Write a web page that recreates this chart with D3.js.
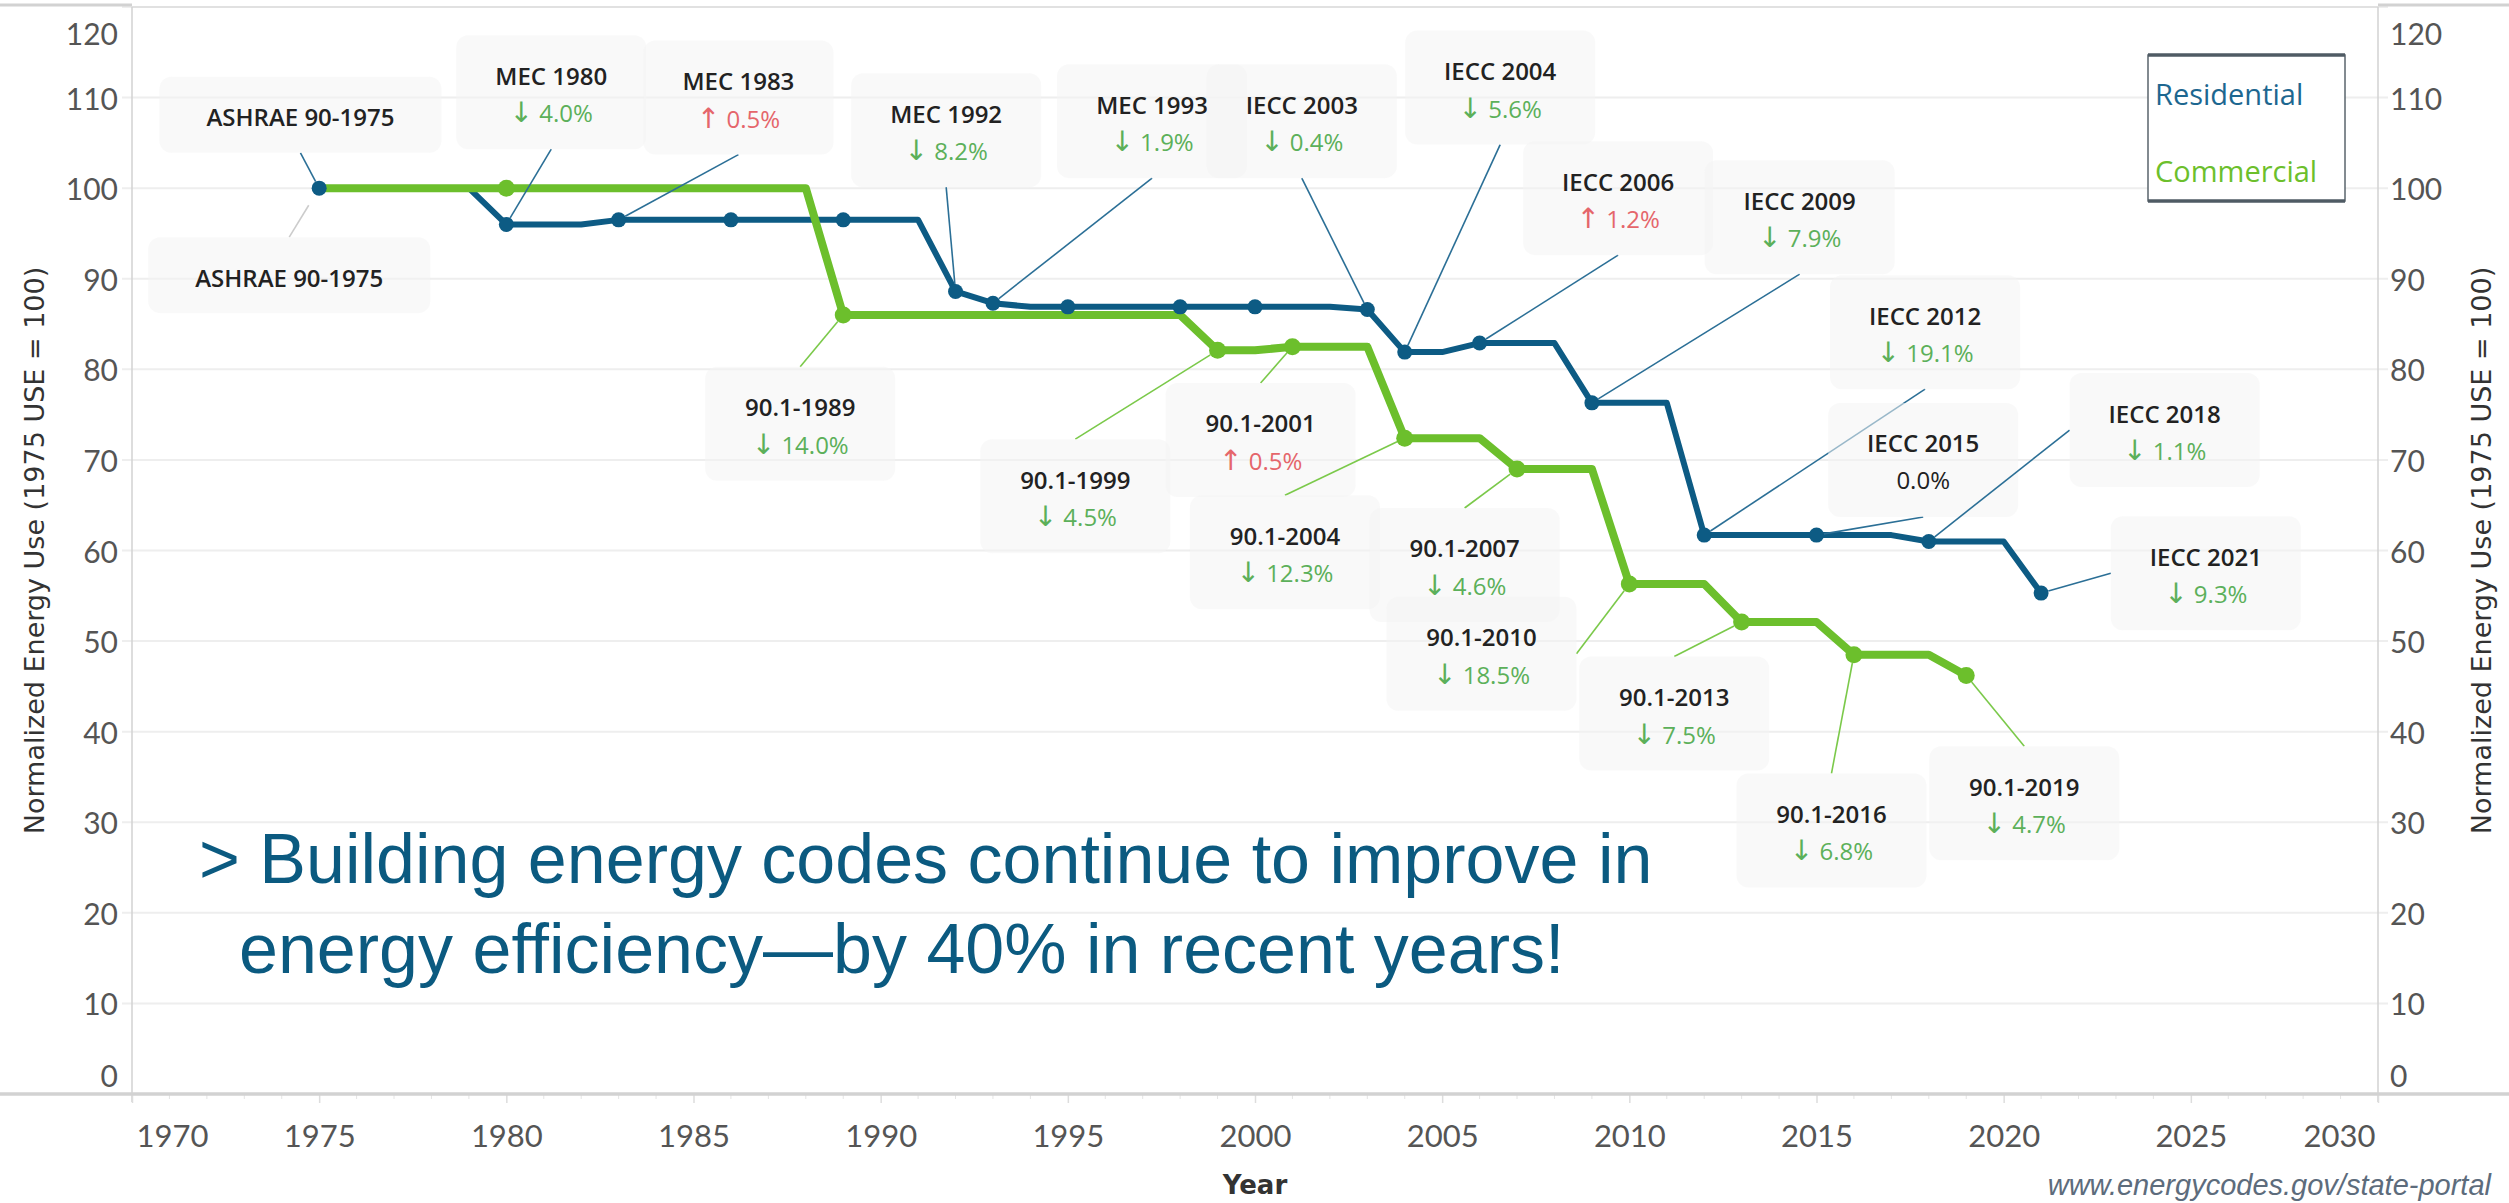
<!DOCTYPE html>
<html>
<head>
<meta charset="utf-8">
<script src="https://cdn.jsdelivr.net/npm/d3@7/dist/d3.min.js"></script>
<style>
  body { margin: 0; background: #fff; }
  svg { display: block; }
</style>
</head>
<body>
<svg id="chart" width="2509" height="1203"></svg>
<script>
// ---- data: normalized energy use (1975 = 100), annual values ----
const resYears = d3.range(1975, 2022);
const resValues = [
  100, 100, 100, 100, 100,
  96.0, 96.0, 96.0,
  96.5, 96.5, 96.5, 96.5, 96.5, 96.5, 96.5, 96.5, 96.5,
  88.6, 87.3,
  86.9, 86.9, 86.9, 86.9, 86.9, 86.9, 86.9, 86.9, 86.9,
  86.6, 81.9, 81.9, 82.9, 82.9, 82.9,
  76.3, 76.3, 76.3,
  61.7, 61.7, 61.7, 61.7, 61.7, 61.7,
  61.0, 61.0, 61.0, 55.3
];
const comYears = d3.range(1975, 2020);
const comValues = [
  100, 100, 100, 100, 100, 100, 100, 100, 100, 100, 100, 100, 100, 100,
  86.0, 86.0, 86.0, 86.0, 86.0, 86.0, 86.0, 86.0, 86.0, 86.0,
  82.1, 82.1, 82.5, 82.5, 82.5,
  72.4, 72.4, 72.4, 69.0, 69.0, 69.0,
  56.3, 56.3, 56.3, 52.1, 52.1, 52.1,
  48.5, 48.5, 48.5, 46.2
];

// code editions that get a marker
const resDotYears = [1975, 1980, 1983, 1986, 1989, 1992, 1993, 1995, 1998, 2000, 2003, 2004, 2006, 2009, 2012, 2015, 2018, 2021];
const comDotYears = [1980, 1989, 1999, 2001, 2004, 2007, 2010, 2013, 2016, 2019];

// annotations
const annoCodes = ['ASHRAE 90-1975', 'MEC 1980', 'MEC 1983', 'MEC 1992', 'MEC 1993', 'IECC 2003', 'IECC 2004',
  'IECC 2006', 'IECC 2009', 'IECC 2012', 'IECC 2015', 'IECC 2018', 'IECC 2021',
  'ASHRAE 90-1975', '90.1-1989', '90.1-1999', '90.1-2001', '90.1-2004', '90.1-2007', '90.1-2010',
  '90.1-2013', '90.1-2016', '90.1-2019'];
const annoChanges = ['', '4.0%', '0.5%', '8.2%', '1.9%', '0.4%', '5.6%', '1.2%', '7.9%', '19.1%', '0.0%', '1.1%', '9.3%',
  '', '14.0%', '4.5%', '0.5%', '12.3%', '4.6%', '18.5%', '7.5%', '6.8%', '4.7%'];
const annoDir = ['', 'down', 'up', 'down', 'down', 'down', 'down', 'up', 'down', 'down', 'flat', 'down', 'down',
  '', 'down', 'down', 'up', 'down', 'down', 'down', 'down', 'down', 'down'];
const annoSeries = ['res', 'res', 'res', 'res', 'res', 'res', 'res', 'res', 'res', 'res', 'res', 'res', 'res',
  'com', 'com', 'com', 'com', 'com', 'com', 'com', 'com', 'com', 'com'];
const annoYears = [1975, 1980, 1983, 1992, 1993, 2003, 2004, 2006, 2009, 2012, 2015, 2018, 2021,
  1975, 1989, 1999, 2001, 2004, 2007, 2010, 2013, 2016, 2019];

const yTicks = d3.range(0, 121, 10);
const xTicks = d3.range(1970, 2031, 5);

// ---- layout (box centres in chart units) ----
const annoBoxYear = [1974.5, 1981.2, 1986.2, 1991.75, 1997.25, 2001.25, 2006.55, 2009.7, 2014.55, 2017.9, 2017.85, 2024.3, 2025.4,
  1974.2, 1987.85, 1995.2, 2000.15, 2000.8, 2005.6, 2006.05, 2011.2, 2015.4, 2020.55];
const annoBoxValue = [108.1, 110.6, 110.0, 106.4, 107.4, 107.4, 111.1, 98.9, 96.8, 84.1, 70.0, 73.3, 57.5,
  90.4, 74.0, 66.0, 72.2, 59.8, 58.4, 48.6, 42.0, 29.1, 32.1];
const annoSide = ['bottom', 'bottom', 'bottom', 'bottom', 'bottom', 'bottom', 'bottom', 'bottom', 'bottom', 'bottom', 'bottom', 'left', 'left',
  'top', 'top', 'top', 'top', 'top', 'top', 'right', 'top', 'top', 'top'];

const colors = {
  res: '#0d5b84',
  com: '#6cbf2c',
  resLink: '#2b6f96',
  comLink: '#7bc94a',
  down: '#5cb05a',
  up: '#e5666b',
  grid: '#eeeeee',
  axis: '#d2d2d2',
  tick: '#555555'
};

const svg = d3.select('#chart');
const W = 2509, H = 1203;
const x = d3.scaleLinear().domain([1970, 2030]).range([132, 2378]);
const y = d3.scaleLinear().domain([0, 120]).range([1094, 7]);
const [x0, x1] = x.range();
const [yb, yt] = y.range();

svg.append('rect').attr('width', W).attr('height', H).attr('fill', '#fff');

// gridlines
svg.append('g')
  .selectAll('line')
  .data(yTicks.filter(d => d > 0))
  .join('line')
  .attr('x1', x0 - 10).attr('x2', x1 + 10)
  .attr('y1', d => y(d)).attr('y2', d => y(d))
  .attr('stroke', colors.grid).attr('stroke-width', 2);

// frame
svg.append('line').attr('x1', 0).attr('x2', x0).attr('y1', yt - 2).attr('y2', yt - 2)
  .attr('stroke', colors.axis).attr('stroke-width', 3);
svg.append('line').attr('x1', x1).attr('x2', W).attr('y1', yt - 2).attr('y2', yt - 2)
  .attr('stroke', colors.axis).attr('stroke-width', 3);
svg.append('line').attr('x1', x0).attr('x2', x1).attr('y1', yt).attr('y2', yt)
  .attr('stroke', '#dddddd').attr('stroke-width', 1.5);
svg.append('line').attr('x1', x0).attr('x2', x0).attr('y1', yt).attr('y2', yb + 8)
  .attr('stroke', colors.axis).attr('stroke-width', 1.5);
svg.append('line').attr('x1', x1).attr('x2', x1).attr('y1', yt).attr('y2', yb + 8)
  .attr('stroke', colors.axis).attr('stroke-width', 1.5);

// y tick labels (left and right)
const yLabelY = d => Math.min(Math.max(y(d), 33), 1075);
svg.append('g')
  .selectAll('text')
  .data(yTicks)
  .join('text')
  .attr('x', 118).attr('y', yLabelY)
  .attr('text-anchor', 'end').attr('dominant-baseline', 'central')
  .attr('font-family', 'Lato, sans-serif').attr('font-size', 30)
  .attr('fill', colors.tick)
  .text(d => d);
svg.append('g')
  .selectAll('text')
  .data(yTicks)
  .join('text')
  .attr('x', 2390).attr('y', yLabelY)
  .attr('text-anchor', 'start').attr('dominant-baseline', 'central')
  .attr('font-family', 'Lato, sans-serif').attr('font-size', 30)
  .attr('fill', colors.tick)
  .text(d => d);

// x axis
const xAxis = d3.axisBottom(x)
  .tickValues(xTicks)
  .tickSize(9)
  .tickPadding(22)
  .tickFormat(d3.format('d'));
const gx = svg.append('g').attr('transform', `translate(0,${yb})`).call(xAxis);
gx.select('.domain').remove();
gx.selectAll('.tick line').attr('stroke', '#dddddd').attr('stroke-width', 1.5);
gx.selectAll('.tick text')
  .attr('font-family', 'Lato, sans-serif').attr('font-size', 31)
  .attr('fill', colors.tick)
  .attr('text-anchor', (d, i) => i === 0 ? 'start' : (i === xTicks.length - 1 ? 'end' : 'middle'))
  .attr('x', (d, i) => i === 0 ? 4 : (i === xTicks.length - 1 ? -3 : 0));
// minor yearly ticks
svg.append('g')
  .selectAll('line')
  .data(d3.range(1971, 2030).filter(d => d % 5 !== 0))
  .join('line')
  .attr('x1', d => x(d)).attr('x2', d => x(d))
  .attr('y1', yb).attr('y2', yb + 5)
  .attr('stroke', '#e4e4e4').attr('stroke-width', 1);
svg.append('line').attr('x1', 0).attr('x2', W).attr('y1', yb).attr('y2', yb)
  .attr('stroke', colors.axis).attr('stroke-width', 3.5);

// axis titles (both read bottom to top)
[34, 2481].forEach(tx => {
  svg.append('text')
    .attr('transform', `translate(${tx},${(yt + yb) / 2}) rotate(-90)`)
    .attr('text-anchor', 'middle').attr('dominant-baseline', 'central')
    .attr('font-family', 'DejaVu Sans, sans-serif').attr('font-size', 27).attr('fill', '#333')
    .text('Normalized Energy Use (1975 USE = 100)');
});
svg.append('text')
  .attr('x', (x0 + x1) / 2).attr('y', 1194)
  .attr('text-anchor', 'middle')
  .attr('font-family', 'DejaVu Sans, sans-serif').attr('font-weight', 'bold')
  .attr('font-size', 26).attr('fill', '#333')
  .text('Year');
svg.append('text')
  .attr('x', 2491).attr('y', 1195)
  .attr('text-anchor', 'end')
  .attr('font-family', 'Liberation Sans, Arial, sans-serif').attr('font-style', 'italic')
  .attr('font-size', 29).attr('fill', '#5d6c7c')
  .text('www.energycodes.gov/state-portal');

// headline
const headline = svg.append('text')
  .attr('font-family', 'Liberation Sans, Arial, sans-serif').attr('font-size', 70)
  .attr('fill', '#0b5a80');
headline.append('tspan').attr('x', 199).attr('y', 883)
  .text('> Building energy codes continue to improve in');
headline.append('tspan').attr('x', 239).attr('y', 973)
  .text('energy efficiency\u2014by 40% in recent years!');

// series lines
const series = {
  res: resYears.map((yr, i) => ({ year: yr, value: resValues[i] })),
  com: comYears.map((yr, i) => ({ year: yr, value: comValues[i] }))
};
const valueAt = (key, yr) => series[key].find(d => d.year === yr).value;

const line = d3.line().x(d => x(d.year)).y(d => y(d.value));
svg.append('path').datum(series.res)
  .attr('d', line).attr('fill', 'none')
  .attr('stroke', colors.res).attr('stroke-width', 6).attr('stroke-linejoin', 'round');
svg.append('path').datum(series.com)
  .attr('d', line).attr('fill', 'none')
  .attr('stroke', colors.com).attr('stroke-width', 8).attr('stroke-linejoin', 'round');

const dotR = { res: 7.5, com: 8.5 };
svg.append('g')
  .selectAll('circle')
  .data(comDotYears)
  .join('circle')
  .attr('cx', d => x(d)).attr('cy', d => y(valueAt('com', d)))
  .attr('r', dotR.com).attr('fill', colors.com);
svg.append('g')
  .selectAll('circle')
  .data(resDotYears)
  .join('circle')
  .attr('cx', d => x(d)).attr('cy', d => y(valueAt('res', d)))
  .attr('r', dotR.res).attr('fill', colors.res);

// annotations: connector, box, text
const annoLayer = svg.append('g');
annoCodes.forEach((code, i) => {
  const key = annoSeries[i];
  const single = annoChanges[i] === '';
  const bw = single ? 282 : 190;
  const bh = single ? 76 : 114;
  const cx = x(annoBoxYear[i]);
  const cy = y(annoBoxValue[i]);
  const px = x(annoYears[i]);
  const py = y(valueAt(key, annoYears[i]));

  let sx = cx, sy = cy;
  if (annoSide[i] === 'bottom') sy = cy + bh / 2;
  if (annoSide[i] === 'top') sy = cy - bh / 2;
  if (annoSide[i] === 'left') sx = cx - bw / 2;
  if (annoSide[i] === 'right') sx = cx + bw / 2;

  // stop the connector at the marker edge (gray ASHRAE one stops short)
  const gap = (key === 'com' && single) ? 20 : dotR[key];
  const len = Math.hypot(px - sx, py - sy);
  const ex = px - (px - sx) / len * gap;
  const ey = py - (py - sy) / len * gap;
  const linkColor = (key === 'com' && single) ? '#cccccc' : (key === 'res' ? colors.resLink : colors.comLink);

  annoLayer.append('line')
    .attr('x1', sx).attr('y1', sy).attr('x2', ex).attr('y2', ey)
    .attr('stroke', linkColor).attr('stroke-width', 1.6);

  annoLayer.append('rect')
    .attr('x', cx - bw / 2).attr('y', cy - bh / 2)
    .attr('width', bw).attr('height', bh)
    .attr('rx', 12)
    .attr('fill', '#f4f4f4').attr('fill-opacity', 0.55);

  annoLayer.append('text')
    .attr('x', cx).attr('y', single ? cy + 2 : cy - 17)
    .attr('text-anchor', 'middle').attr('dominant-baseline', 'central')
    .attr('font-family', 'Open Sans, sans-serif').attr('font-weight', 600)
    .attr('font-size', 24).attr('fill', '#222')
    .text(code);

  if (!single) {
    const dir = annoDir[i];
    const t = annoLayer.append('text')
      .attr('x', cx).attr('y', cy + 20)
      .attr('text-anchor', 'middle').attr('dominant-baseline', 'central')
      .attr('font-family', 'Open Sans, sans-serif')
      .attr('font-size', 24)
      .attr('fill', dir === 'down' ? colors.down : (dir === 'up' ? colors.up : '#222'));
    if (dir !== 'flat') {
      t.append('tspan')
        .attr('font-family', 'DejaVu Sans, sans-serif').attr('font-size', 28)
        .text(dir === 'down' ? '\u2193' : '\u2191');
      t.append('tspan').text('\u00a0' + annoChanges[i]);
    } else {
      t.text(annoChanges[i]);
    }
  }
});

// legend
const legend = svg.append('g');
legend.append('rect')
  .attr('x', 2148).attr('y', 55).attr('width', 197).attr('height', 146)
  .attr('fill', '#fff').attr('stroke', '#5a646c').attr('stroke-width', 1.5);
legend.append('line').attr('x1', 2148).attr('x2', 2345).attr('y1', 55).attr('y2', 55)
  .attr('stroke', '#4f5b64').attr('stroke-width', 3.5);
legend.append('line').attr('x1', 2148).attr('x2', 2345).attr('y1', 201).attr('y2', 201)
  .attr('stroke', '#4f5b64').attr('stroke-width', 3.5);
legend.append('text')
  .attr('x', 2155).attr('y', 93).attr('dominant-baseline', 'central')
  .attr('font-family', 'Open Sans, sans-serif').attr('font-size', 29)
  .attr('fill', '#1d6790')
  .text('Residential');
legend.append('text')
  .attr('x', 2155).attr('y', 170).attr('dominant-baseline', 'central')
  .attr('font-family', 'Open Sans, sans-serif').attr('font-size', 29)
  .attr('fill', colors.com)
  .text('Commercial');
</script>
</body>
</html>
